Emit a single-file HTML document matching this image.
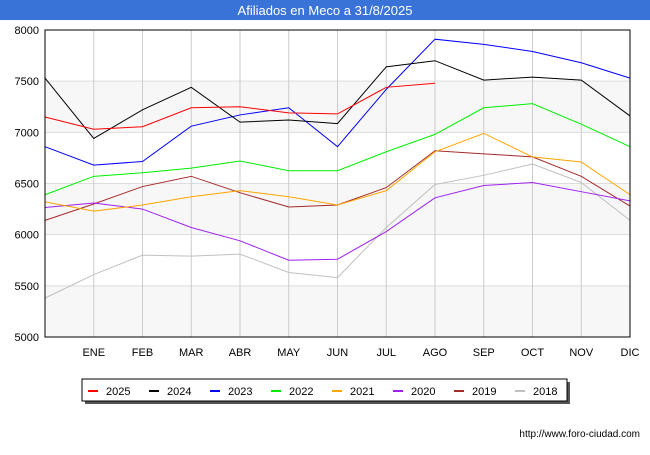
<!DOCTYPE html>
<html><head><meta charset="utf-8"><style>
body{margin:0;background:#fff;font-family:"Liberation Sans",sans-serif}
svg text{font-family:"Liberation Sans",sans-serif}
</style></head><body>
<svg id="c" width="650" height="450">
<rect x="0" y="0" width="650" height="20" fill="#3a73d8"/>
<text x="325" y="15" text-anchor="middle" fill="#fff" font-size="13">Afiliados en Meco a 31/8/2025</text>
<g id="grid"></g><g id="series"></g><g id="axes"></g>
<rect x="85" y="382" width="485" height="22" fill="#555"/>
<rect x="82" y="379" width="485" height="22" fill="#fff" stroke="#000"/>
<g id="legend"></g>
<text x="640" y="437" text-anchor="end" font-size="10" fill="#000">http://www.foro-ciudad.com</text>
</svg>
<script>
const months=["","ENE","FEB","MAR","ABR","MAY","JUN","JUL","AGO","SEP","OCT","NOV","DIC"];
const yTicks=[5000,5500,6000,6500,7000,7500,8000];
const years=["2025","2024","2023","2022","2021","2020","2019","2018"];
const colors=["#ff0000","#000000","#0000ff","#00ee00","#ffa500","#a020f0","#a52a2a","#c0c0c0"];
const s2025=[7150,7030,7055,7240,7250,7190,7180,7440,7480];
const s2024=[7530,6940,7220,7440,7100,7120,7085,7640,7700,7510,7540,7510,7160];
const s2023=[6860,6680,6715,7060,7170,7240,6860,7420,7910,7860,7790,7680,7530];
const s2022=[6390,6570,6605,6650,6720,6625,6625,6810,6980,7240,7280,7080,6860];
const s2021=[6320,6230,6290,6370,6430,6370,6290,6430,6810,6990,6760,6710,6390];
const s2020=[6265,6310,6250,6070,5940,5750,5760,6030,6360,6480,6510,6420,6330];
const s2019=[6140,6300,6470,6570,6410,6270,6290,6460,6820,6790,6760,6570,6280];
const s2018=[5380,5610,5800,5790,5810,5630,5580,6070,6490,6580,6690,6510,6140];
const series=[s2025,s2024,s2023,s2022,s2021,s2020,s2019,s2018];
const L=45,R=630,T=30,B=337,NS="http://www.w3.org/2000/svg";
const x=i=>L+i*(R-L)/12, y=v=>B-(v-5000)/3000*(B-T);
function mk(p,t,a){const e=document.createElementNS(NS,t);for(const k in a)e.setAttribute(k,a[k]);document.getElementById(p).appendChild(e);return e;}
for(let i=0;i<yTicks.length-1;i++){if(i%2==0){const r=mk('grid','rect',{x:L,y:y(yTicks[i+1]),width:R-L,height:y(yTicks[i])-y(yTicks[i+1]),fill:'#f7f7f7'});}}
yTicks.forEach(v=>{const l=mk('grid','line',{x1:L,x2:R,y1:y(v),y2:y(v),stroke:'#ddd'});


const t=mk('axes','text',{x:L-6,y:y(v)+4,'text-anchor':'end','font-size':11});t.textContent=v;

});
months.forEach((m,i)=>{if(i==0)return;const l=mk('grid','line',{x1:x(i),x2:x(i),y1:T,y2:B,stroke:'#ccc'});


const t=mk('axes','text',{x:x(i),y:356,'text-anchor':'middle','font-size':11});t.textContent=m;

});
const f=mk('axes','rect',{x:L,y:T,width:R-L,height:B-T,fill:'none',stroke:'#000'});


for(let k=series.length-1;k>=0;k--){const p=mk('series','polyline',{points:series[k].map((v,i)=>x(i)+','+y(v)).join(' '),fill:'none',stroke:colors[k],'stroke-width':1});

}
years.forEach((yr,k)=>{const lx=88+k*61;const l=mk('legend','line',{x1:lx,x2:lx+10,y1:391,y2:391,stroke:colors[k],'stroke-width':2});


const t=mk('legend','text',{x:lx+18,y:395,'font-size':11});t.textContent=yr;

});
</script>
</body></html>
